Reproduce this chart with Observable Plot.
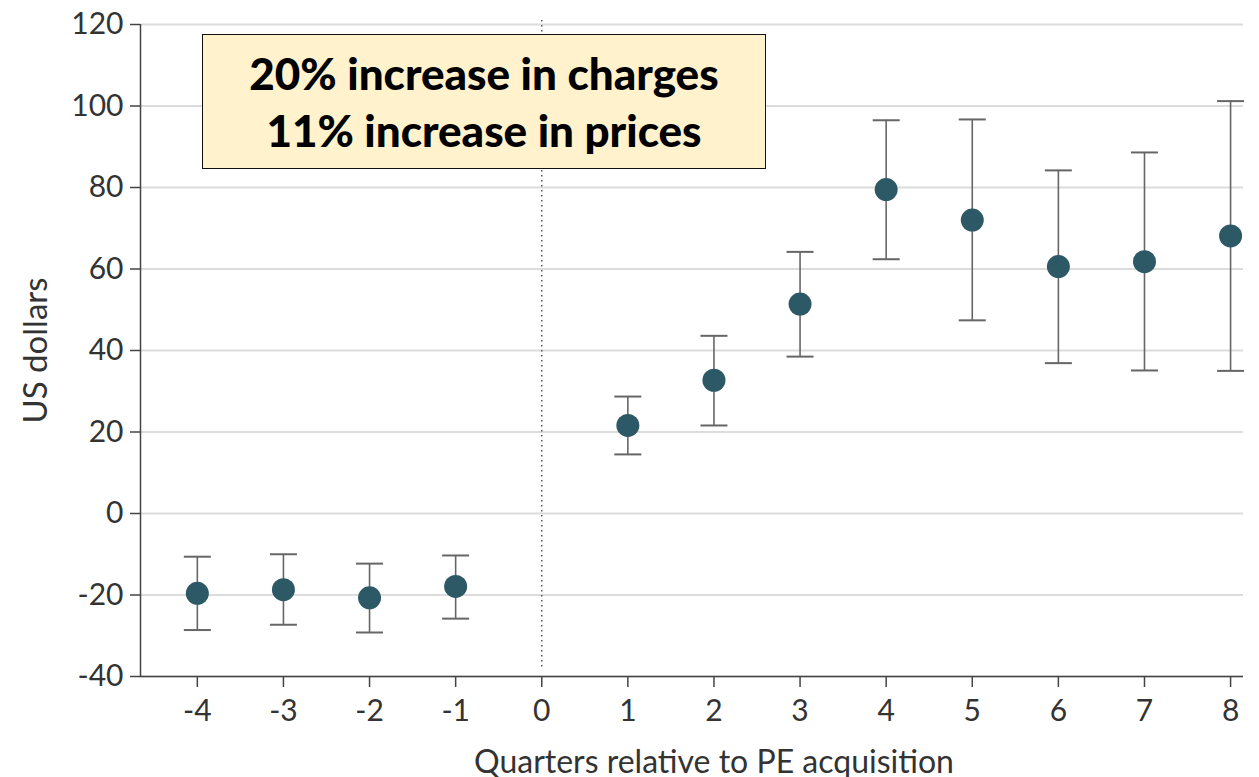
<!DOCTYPE html>
<html>
<head>
<meta charset="utf-8">
<script src="https://cdn.jsdelivr.net/npm/d3@7"></script>
<script src="https://cdn.jsdelivr.net/npm/@observablehq/plot@0.6"></script>
<style>
  html, body { margin: 0; padding: 0; background: #fff; }
  #wrap { position: relative; width: 1259px; height: 777px; }
  #note {
    position: absolute; left: 202px; top: 34px; width: 562px; height: 133px;
    background: #FFF2CC; border: 1.5px solid #111;
    font-family: Lato, "Open Sans", sans-serif; font-weight: 900; font-size: 44px;
    color: #000; text-align: center; line-height: 57px;
    display: flex; flex-direction: column; justify-content: center;
  }
</style>
</head>
<body>
<div id="wrap"></div>
<script>
const quarters = [-4, -3, -2, -1, 1, 2, 3, 4, 5, 6, 7, 8];
const estimates = [-19.6, -18.7, -20.7, -17.9, 21.6, 32.7, 51.4, 79.5, 72.0, 60.6, 61.8, 68.1];
const lower = [-28.6, -27.3, -29.2, -25.8, 14.5, 21.6, 38.5, 62.4, 47.4, 36.9, 35.1, 35.0];
const upper = [-10.6, -10.0, -12.3, -10.3, 28.7, 43.6, 64.2, 96.5, 96.7, 84.2, 88.6, 101.2];
const xTicks = [-4, -3, -2, -1, 0, 1, 2, 3, 4, 5, 6, 7, 8];
const yTicks = [-40, -20, 0, 20, 40, 60, 80, 100, 120];
const xLabel = "Quarters relative to PE acquisition";
const yLabel = "US dollars";
const noteLines = ["20% increase in charges", "11% increase in prices"];

const data = quarters.map((q, i) => ({q, est: estimates[i], lo: lower[i], hi: upper[i]}));

const capSymbol = {
  draw(context, size) {
    context.moveTo(-13.5, 0);
    context.lineTo(13.5, 0);
  }
};

const font = "Lato, 'Open Sans', sans-serif";

const chart = Plot.plot({
  width: 1259,
  height: 777,
  marginLeft: 140,
  marginRight: 16,
  marginTop: 24,
  marginBottom: 101,
  style: {fontFamily: font, fontSize: "30px", color: "#333", background: "#fff", overflow: "visible"},
  x: {domain: [-4.66, 8.15]},
  y: {domain: [-40, 120]},
  marks: [
    Plot.gridY(yTicks, {stroke: "#dcdcdc", strokeOpacity: 1, strokeWidth: 2}),
    Plot.ruleX([0], {y1: 121, y2: -38, stroke: "#555", strokeWidth: 1.5, strokeDasharray: "1.5,3.5"}),
    Plot.axisX({ticks: xTicks, tickFormat: d => String(d), tickSize: 11, tickPadding: 12, stroke: "#444", strokeWidth: 1.5,
      fontSize: 30, fill: "#333", label: null}),
    Plot.axisY({ticks: yTicks, tickFormat: d => String(d), tickSize: 10, tickPadding: 7, stroke: "#444", strokeWidth: 1.5,
      fontSize: 30, fill: "#333", label: null}),
    Plot.text([xLabel], {text: d => d, frameAnchor: "bottom", textAnchor: "middle", dx: 22, dy: 96, fontSize: 32, fill: "#333"}),
    Plot.text([yLabel], {text: d => d, frameAnchor: "left", textAnchor: "middle", dx: -104, rotate: -90, fontSize: 33, fill: "#333"}),
    Plot.ruleY([-40], {stroke: "#444", strokeWidth: 1.5}),
    Plot.ruleX([-4.66], {y1: -40, y2: 120, stroke: "#444", strokeWidth: 1.5}),
    Plot.ruleX(data, {x: "q", y1: "lo", y2: "hi", stroke: "#666", strokeWidth: 1.6}),
    Plot.dot(data, {x: "q", y: "lo", symbol: capSymbol, stroke: "#666", strokeWidth: 2, r: 5}),
    Plot.dot(data, {x: "q", y: "hi", symbol: capSymbol, stroke: "#666", strokeWidth: 2, r: 5}),
    Plot.dot(data, {x: "q", y: "est", r: 11.5, fill: "#2D5866", stroke: "none"})
  ]
});

const wrap = document.getElementById("wrap");
wrap.appendChild(chart);
const note = document.createElement("div");
note.id = "note";
noteLines.forEach(t => { const d = document.createElement("div"); d.textContent = t; note.appendChild(d); });
wrap.appendChild(note);
</script>
</body>
</html>
